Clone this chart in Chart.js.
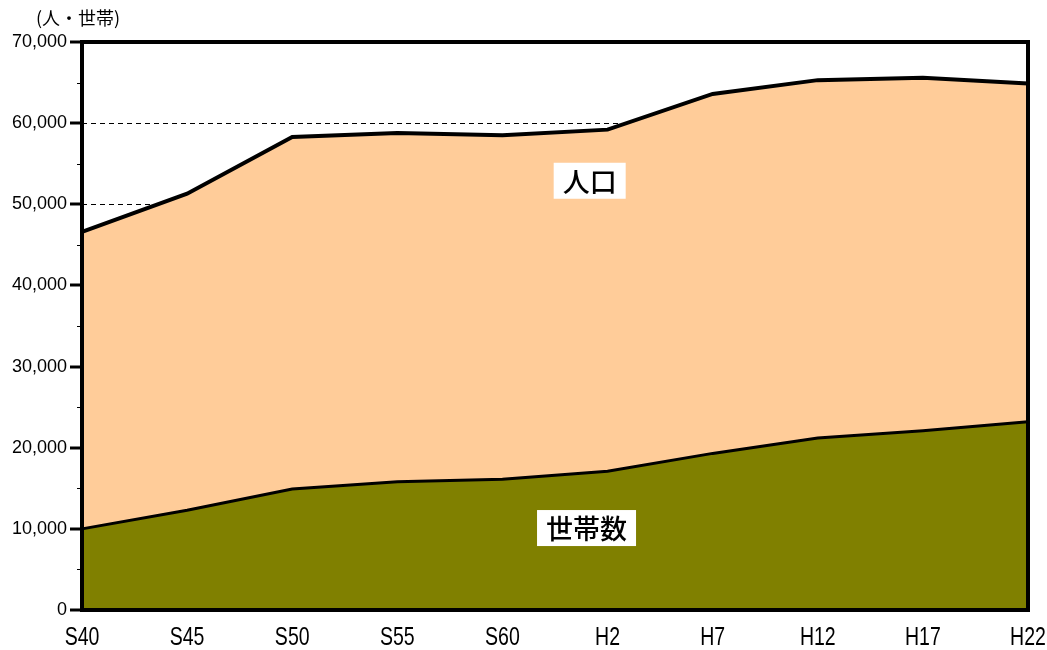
<!DOCTYPE html>
<html>
<head>
<meta charset="utf-8">
<script src="https://cdn.jsdelivr.net/npm/chart.js@4/dist/chart.umd.min.js"></script>
<style>
html,body{margin:0;padding:0;background:#fff;}
#wrap{position:relative;width:1047px;height:650px;}
</style>
</head>
<body>
<div id="wrap"><canvas id="c" width="1047" height="650"></canvas></div>
<script>
const categories = ['S40','S45','S50','S55','S60','H2','H7','H12','H17','H22'];
const population = [46600, 51300, 58300, 58800, 58500, 59200, 63600, 65300, 65600, 64900];
const households = [10000, 12300, 14900, 15800, 16100, 17100, 19300, 21200, 22100, 23200];
const yTickLabels = ['0','10,000','20,000','30,000','40,000','50,000','60,000','70,000'];
const unitLabel = '(人・世帯)';
const seriesNames = ['世帯数', '人口'];
// annotation anchor positions in data space: [x index, y value]
const labelAnchors = [[4.8, 10100], [4.83, 52900]];

const JP = '"Noto Sans CJK JP", sans-serif';

const decor = {
  id: 'decor',
  afterDatasetsDraw(chart) {
    const {ctx, chartArea: a, scales} = chart;
    const y = scales.y, x = scales.x;
    ctx.save();
    // y ticks
    ctx.strokeStyle = '#000';
    for (let v = 0; v <= 70000; v += 5000) {
      const py = Math.round(y.getPixelForValue(v));
      const major = v % 10000 === 0;
      ctx.lineWidth = major ? 3 : 1;
      ctx.beginPath();
      ctx.moveTo(a.left - (major ? 12 : 5), py + (major ? 0 : 0.5));
      ctx.lineTo(a.left, py + (major ? 0 : 0.5));
      ctx.stroke();
    }
    // border
    ctx.lineWidth = 4;
    ctx.strokeRect(a.left, a.top, a.right - a.left, a.bottom - a.top);
    // x labels (condensed)
    ctx.fillStyle = '#000';
    ctx.font = '25px "Liberation Sans", Arial, sans-serif';
    ctx.textAlign = 'center';
    ctx.textBaseline = 'middle';
    categories.forEach((c, i) => {
      const px = x.getPixelForValue(i);
      ctx.save();
      ctx.translate(px, 638);
      ctx.scale(0.78, 1);
      ctx.fillText(c, 0, 0);
      ctx.restore();
    });
    // unit label
    ctx.font = '18px ' + JP;
    ctx.textAlign = 'left';
    ctx.fillText(unitLabel, 36, 18);
    // series labels
    ctx.font = '500 27px ' + JP;
    ctx.textAlign = 'center';
    labelAnchors.forEach((p, i) => {
      const px = x.getPixelForValue(p[0]);
      const py = y.getPixelForValue(p[1]);
      const t = seriesNames[i];
      const w = ctx.measureText(t).width + 18;
      const h = 36;
      ctx.fillStyle = '#fff';
      ctx.fillRect(px - w / 2, py - h / 2, w, h);
      ctx.fillStyle = '#000';
      ctx.fillText(t, px, py + 1);
    });
    ctx.restore();
  }
};

new Chart(document.getElementById('c'), {
  type: 'line',
  data: {
    labels: categories,
    datasets: [
      {
        label: seriesNames[0],
        data: households,
        borderColor: '#000',
        borderWidth: 3,
        backgroundColor: '#808000',
        fill: 'origin',
        pointRadius: 0,
        tension: 0
      },
      {
        label: seriesNames[1],
        data: population,
        borderColor: '#000',
        borderWidth: 4,
        backgroundColor: '#FFCC99',
        fill: 'origin',
        pointRadius: 0,
        tension: 0
      }
    ]
  },
  options: {
    responsive: false,
    animation: false,
    layout: { padding: { top: 42, right: 19, left: 0, bottom: 0 } },
    plugins: { legend: { display: false }, tooltip: { enabled: false } },
    scales: {
      x: {
        type: 'category',
        offset: false,
        grid: { display: false, drawTicks: false },
        border: { display: false },
        ticks: { display: false },
        afterFit(s) { s.height = 40; }
      },
      y: {
        min: 0, max: 70000,
        grid: {
          drawTicks: false,
          color: '#000',
          lineWidth: 1
        },
        border: { display: false, dash: [5, 4] },
        ticks: {
          stepSize: 10000,
          padding: 15,
          color: '#000',
          font: { family: '"Liberation Sans", Arial, sans-serif', size: 18 },
          callback: (v) => yTickLabels[v / 10000]
        },
        afterFit(s) { s.width = 82; }
      }
    }
  },
  plugins: [decor]
});
</script>
</body>
</html>
